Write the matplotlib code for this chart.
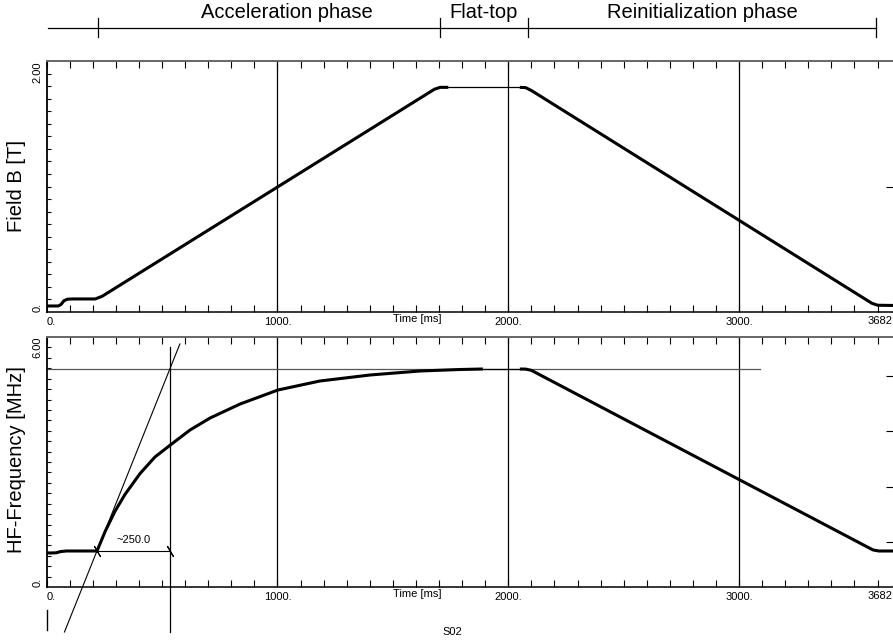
import matplotlib
matplotlib.use("Agg")
import matplotlib.pyplot as plt

plt.rcParams['font.family'] = ['Liberation Sans', 'DejaVu Sans']

# time axis [ms]
T_MAX = 3667
x_major = [0, 1000, 2000, 3000]
x_major_labels = ["0.", "1000.", "2000.", "3000."]
x_end_label = "3682"
x_title = "Time [ms]"
x_title_pos = 1606

# phases along the top
phase_start = 5
phase_edges = [222, 1704, 2085, 3593]
phase_names = ["Acceleration phase", "Flat-top", "Reinitialization phase"]
phase_label_t = [1041, 1894, 2839]

# field B [T]
b_up_t = [0, 50, 62, 75, 90, 110, 210, 240, 1680, 1705, 1740]
b_up_v = [0.048, 0.048, 0.06, 0.09, 0.102, 0.104, 0.104, 0.125, 1.775, 1.79, 1.79]
b_flat_t = [1740, 2050]
b_flat_v = [1.79, 1.79]
b_down_t = [2050, 2075, 2100, 3575, 3600, 3667]
b_down_v = [1.79, 1.788, 1.765, 0.07, 0.054, 0.052]
b_right_ticks = [1.0]

# HF frequency [MHz]
f_up_t = [0, 15, 40, 60, 85, 218, 253, 296, 339, 404, 469, 534, 621, 708, 838,
          1002, 1184, 1401, 1617, 1791, 1890]
f_up_v = [0.82, 0.816, 0.82, 0.85, 0.864, 0.864, 1.33, 1.82, 2.22, 2.72, 3.12,
          3.40, 3.768, 4.056, 4.392, 4.728, 4.944, 5.088, 5.184, 5.22, 5.232]
f_flat_t = [1890, 2050]
f_flat_v = [5.232, 5.232]
f_down_t = [2050, 2075, 2100, 3580, 3605, 3667]
f_down_v = [5.232, 5.23, 5.2, 0.89, 0.864, 0.864]
f_right_ticks = [1.08, 2.4, 3.74, 5.06]

# construction lines on the frequency plot
f_top_level = 5.232
f_top_line_end = 3090
tangent_t = [77, 577]
tangent_f = [-1.08, 5.832]
dim_t = [218, 534]
dim_level = 0.864
dim_label = "~250.0"
dim_vline_f = [-1.08, 5.76]
origin_mark_f = [-0.55, -1.03]

W, H = 893, 641
fig = plt.figure(figsize=(W / 100, H / 100), dpi=100)
left = 46.7 / W
width = 1 - left

ax_b = fig.add_axes([left, 1 - 312 / H, width, 251 / H])
ax_f = fig.add_axes([left, 1 - 587 / H, width, 250 / H])
ax_bar = fig.add_axes([left, 1 - 45 / H, width, 45 / H])


def style_panel(ax, ymax, ymin_label, ymax_label, minor_step, right_ticks):
    ax.set_xlim(0, T_MAX)
    ax.set_ylim(0, ymax)
    ax.set_xticks(x_major)
    ax.set_xticklabels([])
    ax.set_xticks(range(0, T_MAX, 100), minor=True)
    ax.set_yticks([])
    n = int(round(ymax / minor_step))
    ax.set_yticks([i * minor_step for i in range(1, n)], minor=True)
    ax.tick_params(axis='x', which='both', direction='in', top=True, bottom=True,
                   length=5, width=0.8, color='black')
    ax.tick_params(axis='y', which='minor', direction='in', left=True, right=False,
                   length=3, width=0.8)
    ax.spines['right'].set_visible(False)
    ax.spines['top'].set_color('#666666')
    ax.spines['top'].set_linewidth(1.4)
    ax.spines['left'].set_linewidth(1.3)
    ax.spines['bottom'].set_linewidth(1.1)
    for t in x_major[1:]:
        ax.axvline(t, color='black', lw=0.9)

    tr = ax.get_xaxis_transform()
    h_px = ax.get_position().height * H
    y_lab = -10 / h_px
    for t, lab in zip(x_major, x_major_labels):
        ax.text(t, y_lab, lab, transform=tr, fontsize=8,
                ha='left' if t == 0 else 'center', va='center')
    ax.text(T_MAX, y_lab + 1 / h_px, x_end_label, transform=tr, fontsize=8,
            ha='right', va='center')
    ax.text(x_title_pos, y_lab + 3 / h_px, x_title, transform=tr, fontsize=8,
            ha='center', va='center')

    ty = ax.get_yaxis_transform()
    xl = -9.5 / (width * W)
    ax.text(xl, 0, ymin_label, transform=ty, rotation=90, fontsize=8,
            ha='center', va='bottom')
    ax.text(xl, ymax, ymax_label, transform=ty, rotation=90, fontsize=8,
            ha='center', va='top')

    tw = ax.twinx()
    tw.set_ylim(0, ymax)
    tw.set_yticks(right_ticks)
    tw.set_yticklabels([])
    tw.tick_params(axis='y', direction='in', length=5, width=0.8)
    for s in tw.spines.values():
        s.set_visible(False)


style_panel(ax_b, 2.0, "0.", "2.00", 0.1, b_right_ticks)
style_panel(ax_f, 6.0, "0.", "6.00", 0.25, f_right_ticks)

# field curve
ax_b.plot(b_up_t, b_up_v, color='black', lw=2.2, solid_capstyle='butt')
ax_b.plot(b_flat_t, b_flat_v, color='black', lw=0.9)
ax_b.plot(b_down_t, b_down_v, color='black', lw=2.2, solid_capstyle='butt')

# frequency curve and construction lines
ax_f.plot([0, f_top_line_end], [f_top_level, f_top_level], color='#555555', lw=0.9)
ax_f.plot(f_up_t, f_up_v, color='black', lw=2.2, solid_capstyle='butt')
ax_f.plot(f_flat_t, f_flat_v, color='black', lw=0.9)
ax_f.plot(f_down_t, f_down_v, color='black', lw=2.2, solid_capstyle='butt')
ax_f.plot(tangent_t, tangent_f, color='black', lw=0.8, clip_on=False)
ax_f.plot([dim_t[1], dim_t[1]], dim_vline_f, color='black', lw=0.9, clip_on=False)
ax_f.plot(dim_t, [dim_level, dim_level], color='black', lw=0.8,
          marker=(2, 2, 30), markersize=9, markeredgewidth=0.8)
ax_f.text(sum(dim_t) / 2, dim_level + 0.27, dim_label, fontsize=8,
          ha='center', va='center')
ax_f.plot([0, 0], origin_mark_f, color='black', lw=1.0, clip_on=False)

# phase bar
ax_bar.set_xlim(0, T_MAX)
ax_bar.set_ylim(45, 0)
ax_bar.axis('off')
ax_bar.plot([phase_start, phase_edges[-1]], [27.5, 27.5], color='black', lw=0.9)
for t in phase_edges:
    ax_bar.plot([t, t], [18, 37], color='black', lw=0.9)
for t, name in zip(phase_label_t, phase_names):
    ax_bar.text(t, 12.5, name, fontsize=14.5, ha='center', va='center')

fig.text(17 / W, 1 - 186 / H, "Field B [T]", rotation=90, fontsize=14.5,
         ha='center', va='center')
fig.text(17 / W, 1 - 460 / H, "HF-Frequency [MHz]", rotation=90, fontsize=14.5,
         ha='center', va='center')
fig.text(452 / W, 1 - 632 / H, "S02", fontsize=8, ha='center', va='center')

fig.savefig("out.png", dpi=100)
